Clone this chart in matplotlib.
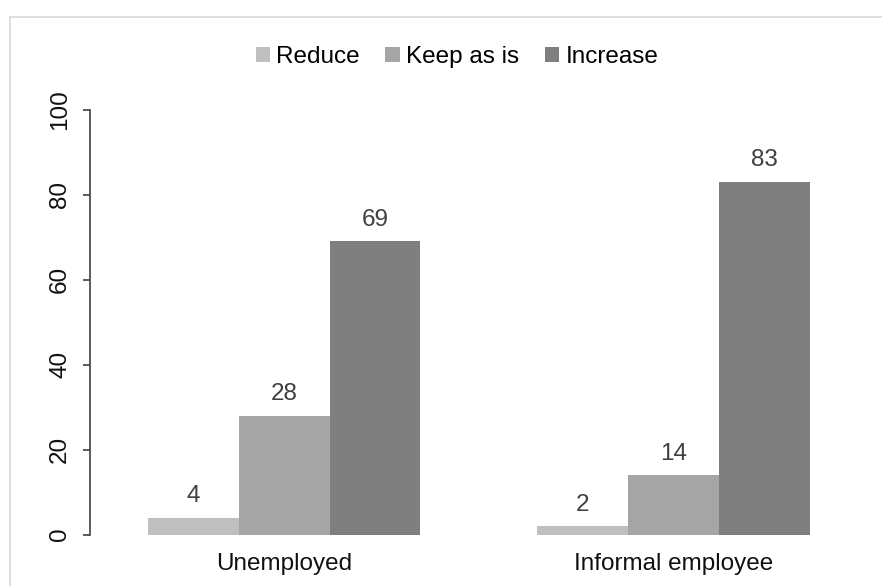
import matplotlib
matplotlib.use("Agg")
import matplotlib.pyplot as plt
from matplotlib.lines import Line2D
import numpy as np

categories = ["Unemployed", "Informal employee"]
series_names = ["Reduce", "Keep as is", "Increase"]
reduce_vals = [4, 2]
keep_vals = [28, 14]
increase_vals = [69, 83]
y_ticks = [0, 20, 40, 60, 80, 100]

colors = ["#BFBFBF", "#A5A5A5", "#7F7F7F"]

FS = 17.5
plt.rcParams["font.family"] = ["Liberation Sans", "DejaVu Sans"]
plt.rcParams["font.size"] = FS

W, H = 882, 586
fig = plt.figure(figsize=(W / 100, H / 100), dpi=100)

left, right, top, bottom = 89.5, 868, 109.7, 534.5
ax = fig.add_axes([left / W, 1 - bottom / H, (right - left) / W, (bottom - top) / H])

x = np.arange(len(categories))
width = 0.7 / 3
series = [reduce_vals, keep_vals, increase_vals]
for i, (name, vals, c) in enumerate(zip(series_names, series, colors)):
    bars = ax.bar(x + (i - 1) * width, vals, width, color=c, label=name, linewidth=0)
    ax.bar_label(bars, labels=[str(v) for v in vals], padding=7.5,
                 color="#404040", fontsize=FS)

ax.set_xlim(-0.5, 1.5)
ax.set_ylim(0, 100)
ax.set_yticks(y_ticks)
ax.set_yticklabels([str(t) for t in y_ticks], rotation=90, va="center")
ax.set_xticks(x)
ax.set_xticklabels(categories)

for s in ["top", "right", "bottom"]:
    ax.spines[s].set_visible(False)
ax.spines["left"].set_color("#404040")
ax.spines["left"].set_linewidth(1.2)
ax.tick_params(axis="y", length=4.7, width=1.2, color="#404040", pad=8.5, labelcolor="#111111")
ax.tick_params(axis="x", length=0, pad=13.5, labelcolor="#111111")

fig.legend(loc="center", bbox_to_anchor=(457 / W, 1 - 57 / H), ncol=3, frameon=False,
           handlelength=0.6, handleheight=0.6, handletextpad=0.25,
           columnspacing=1.05, fontsize=FS, borderaxespad=0, borderpad=0)

# light outer frame
fx = 10 / W
fy = 1 - 17 / H
fig.add_artist(Line2D([fx, 1.0], [fy, fy], transform=fig.transFigure, color="#D9D9D9", linewidth=1.2))
fig.add_artist(Line2D([fx, fx], [fy, 0.0], transform=fig.transFigure, color="#D9D9D9", linewidth=1.2))

fig.savefig("out.png", dpi=100)
